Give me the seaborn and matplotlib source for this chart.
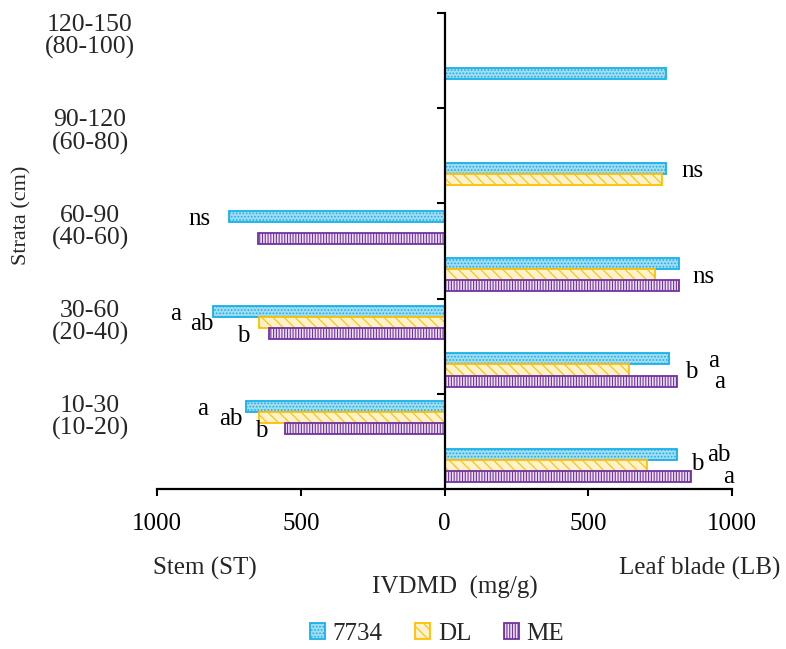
import numpy as np
import pandas as pd
import matplotlib
matplotlib.use("Agg")
import matplotlib.pyplot as plt
import matplotlib.transforms as mtransforms
import seaborn as sns

# Strata, listed from the top of the canopy down
strata = ["120-150\n(80-100)", "90-120\n(60-80)", "60-90\n(40-60)",
          "30-60\n(20-40)", "10-30\n(10-20)"]
cultivars = ["7734", "DL", "ME"]

# IVDMD (mg/g) of stems (ST)
stem_7734 = [np.nan, np.nan, 750, 805, 690]
stem_dl = [np.nan, np.nan, np.nan, 645, 645]
stem_me = [np.nan, np.nan, 650, 610, 555]

# IVDMD (mg/g) of leaf blades (LB)
leaf_7734 = [772, 772, 815, 780, 807]
leaf_dl = [np.nan, 758, 732, 642, 705]
leaf_me = [np.nan, np.nan, 815, 807, 856]

x_ticks = [-1000, -500, 0, 500, 1000]
x_tick_labels = ["1000", "500", "0", "500", "1000"]

# Significance letters: (text, x in mg/g, y in slot units)
sig_letters = [
    ("ns", -854, 3.95),
    ("a", -934, 5.95), ("ab", -843, 6.16), ("b", -700, 6.41),
    ("a", -843, 7.95), ("ab", -742, 8.16), ("b", -638, 8.41),
    ("ns", 864, 2.95),
    ("ns", 899, 5.17),
    ("a", 937, 6.94), ("b", 857, 7.17), ("a", 958, 7.38),
    ("ab", 955, 8.91), ("b", 878, 9.10), ("a", 990, 9.37),
]

# ---- long table: each stratum gets a stem slot above a leaf slot ----
rows = []
slot_order = []
for i, s in enumerate(strata):
    for organ, sign, series in (("ST", -1, (stem_7734, stem_dl, stem_me)),
                                ("LB", 1, (leaf_7734, leaf_dl, leaf_me))):
        slot = f"{s}|{organ}"
        slot_order.append(slot)
        for cv, vals in zip(cultivars, series):
            v = vals[i]
            if not np.isnan(v):
                rows.append({"slot": slot, "cultivar": cv, "ivdmd": sign * v})
df = pd.DataFrame(rows)

sns.set_theme(style="white")
plt.rcParams["font.family"] = ["Liberation Serif", "DejaVu Serif"]
plt.rcParams["hatch.linewidth"] = 0.8

styles = {
    "7734": dict(face="#a3dcf1", edge="#17b1ea", hatch="....."),
    "DL": dict(face="#fff2cc", edge="#ffc000", hatch="\\\\\\"),
    "ME": dict(face="#ece2f3", edge="#7332a3", hatch="||||||"),
}

fig = plt.figure(figsize=(7.86, 6.49), dpi=100)
ax = fig.add_axes([157 / 786, 1 - 489 / 649, 575 / 786, 476 / 649])

sns.barplot(data=df, x="ivdmd", y="slot", hue="cultivar", order=slot_order,
            hue_order=cultivars, orient="h", width=0.7, errorbar=None,
            palette=[styles[c]["edge"] for c in cultivars], legend=False, ax=ax)

for cont, cv in zip(ax.containers, cultivars):
    st = styles[cv]
    for p in cont:
        p.set_facecolor(st["face"])
        p.set_edgecolor(st["edge"])
        p.set_hatch(st["hatch"])
        p.set_linewidth(1.3)

ax.set_xlim(-1000, 1000)
ax.set_ylim(len(slot_order) - 0.5, -0.5)
ax.set_xlabel("")
ax.set_ylabel("")

# x axis
ax.set_xticks(x_ticks, labels=x_tick_labels)
ax.tick_params(axis="x", which="major", direction="out", length=5, width=1.5,
               pad=12, labelsize=18, colors="black", bottom=True)

# y axis: the axis line sits at zero, with ticks between strata
ax.set_yticks([])
ax.set_yticks(np.arange(-0.5, len(slot_order) - 1, 2), minor=True)
ax.tick_params(axis="y", which="minor", left=False, right=True,
               labelleft=False, labelright=False,
               direction="in", length=6, width=1.5, color="black")

# stratum names, centred on each stem slot, left of the plot
label_tf = mtransforms.blended_transform_factory(ax.transAxes, ax.transData)
for k, s in enumerate(strata):
    ax.text(-0.1165, 2 * k, s, transform=label_tf, ha="center", va="center",
            multialignment="center", linespacing=1.0, fontsize=18.5,
            clip_on=False)

for side in ("left", "top"):
    ax.spines[side].set_visible(False)
ax.spines["right"].set_position(("data", 0))
for side in ("right", "bottom"):
    ax.spines[side].set_color("black")
    ax.spines[side].set_linewidth(1.6)

for txt, x, y in sig_letters:
    ax.text(x, y, txt, ha="center", va="baseline", fontsize=18,
            color="black", clip_on=False)

fig.text(205 / 786, 1 - 568 / 649, "Stem (ST)", ha="center", va="center",
         fontsize=18)
fig.text(700 / 786, 1 - 568 / 649, "Leaf blade (LB)", ha="center",
         va="center", fontsize=18)
fig.text(455 / 786, 1 - 587 / 649, "IVDMD  (mg/g)", ha="center",
         va="center", fontsize=18)
fig.text(22 / 786, 1 - 215 / 649, "Strata (cm)", ha="center", va="center",
         rotation=90, fontsize=16)

ax.legend(ax.containers, cultivars, loc="center",
          bbox_to_anchor=(437 / 786, 1 - 634 / 649),
          bbox_transform=fig.transFigure, ncol=3, frameon=False,
          fontsize=18, handlelength=0.6, handleheight=0.6,
          handletextpad=0.3, columnspacing=1.3)

fig.savefig("out.png", dpi=100)
